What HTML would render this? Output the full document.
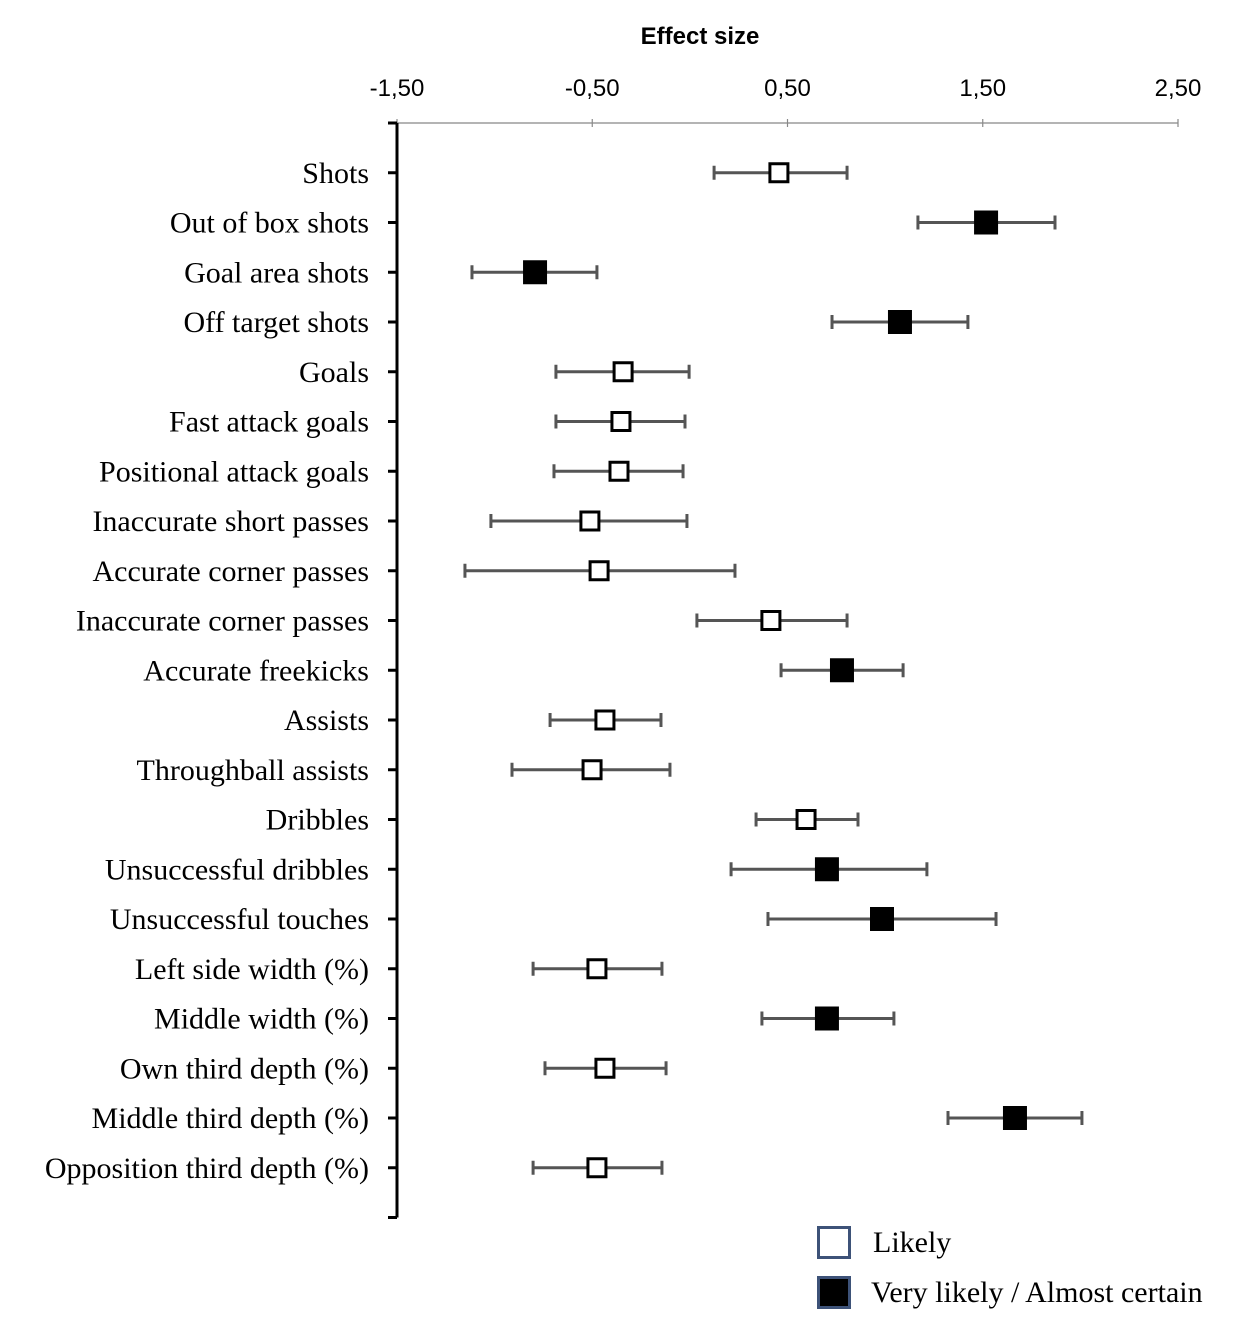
<!DOCTYPE html>
<html><head><meta charset="utf-8"><style>
html,body{margin:0;padding:0;background:#fff;width:1235px;height:1337px;overflow:hidden}
</style></head><body>
<svg id="chart" width="1235" height="1337" xmlns="http://www.w3.org/2000/svg">
<text x="700" y="44" text-anchor="middle" font-family="Liberation Sans, sans-serif" font-size="24" font-weight="bold">Effect size</text>
<g id="axes"></g>
<g id="marks"></g>
<g>
<rect x="818.5" y="1227.5" width="31" height="30" fill="#fff" stroke="#3d5278" stroke-width="3"/>
<text x="873" y="1252" font-family="Liberation Serif, serif" font-size="30">Likely</text>
<rect x="818.5" y="1277.5" width="31" height="30" fill="#000" stroke="#3d5278" stroke-width="3"/>
<text x="871" y="1302" font-family="Liberation Serif, serif" font-size="30">Very likely / Almost certain</text>
</g>
</svg>
<script>
const categories=["Shots","Out of box shots","Goal area shots","Off target shots","Goals","Fast attack goals","Positional attack goals","Inaccurate short passes","Accurate corner passes","Inaccurate corner passes","Accurate freekicks","Assists","Throughball assists","Dribbles","Unsuccessful dribbles","Unsuccessful touches","Left side width (%)","Middle width (%)","Own third depth (%)","Middle third depth (%)","Opposition third depth (%)"];
const effect=[0.456,1.517,-0.793,1.076,-0.342,-0.353,-0.363,-0.512,-0.465,0.415,0.779,-0.435,-0.501,0.595,0.702,0.984,-0.476,0.702,-0.435,1.665,-0.476];
const lower=[0.124,1.168,-1.116,0.728,-0.686,-0.686,-0.696,-1.019,-1.152,0.036,0.467,-0.716,-0.911,0.339,0.211,0.400,-0.803,0.369,-0.742,1.322,-0.803];
const upper=[0.805,1.870,-0.476,1.424,-0.004,-0.025,-0.035,-0.015,0.231,0.805,1.092,-0.148,-0.102,0.861,1.214,1.568,-0.143,1.045,-0.122,2.008,-0.143];
const certain=[0,1,1,1,0,0,0,0,0,0,1,0,0,0,1,1,0,1,0,1,0];
const xTicks=[-1.5,-0.5,0.5,1.5,2.5];
const xTickLabels=["-1,50","-0,50","0,50","1,50","2,50"];

const NS="http://www.w3.org/2000/svg";
const X0=397,X1=1178,VMIN=-1.5,VMAX=2.5;
const x=v=>X0+(v-VMIN)/(VMAX-VMIN)*(X1-X0);
const TOP=123,STEP=49.75;
const y=i=>TOP+(i+1)*STEP;
function mk(tag,attrs,parent){const e=document.createElementNS(NS,tag);for(const k in attrs)e.setAttribute(k,attrs[k]);parent.appendChild(e);return e;}
const axes=document.getElementById('axes'),marks=document.getElementById('marks');
let e=mk('line',{x1:X0,y1:TOP,x2:X1,y2:TOP,stroke:'#888','stroke-width':1.2},axes);


xTicks.forEach((t,i)=>{
 let tk=mk('line',{x1:x(t),y1:TOP-4,x2:x(t),y2:TOP+4,stroke:'#888','stroke-width':1.2},axes);
 
 
 let tl=mk('text',{x:x(t),y:96,'text-anchor':'middle','font-family':'Liberation Sans, sans-serif','font-size':24},axes);
 tl.textContent=xTickLabels[i];
 
 
});
const yEnd=y(categories.length);
e=mk('line',{x1:X0,y1:TOP,x2:X0,y2:yEnd,stroke:'#000','stroke-width':3},axes);


for(let k=0;k<=categories.length+1;k++){
 const yy=TOP+k*STEP;
 let tk=mk('line',{x1:388,y1:yy,x2:X0,y2:yy,stroke:'#000','stroke-width':3},axes);
 
 
}
categories.forEach((c,i)=>{
 const yy=y(i);
 let lb=mk('text',{x:369,y:yy+10,'text-anchor':'end','font-family':'Liberation Serif, serif','font-size':30},axes);
 lb.textContent=c;
 
 
 let g=mk('g',{},marks);
 
 
 let l=mk('line',{x1:x(lower[i]),y1:yy,x2:x(upper[i]),y2:yy,stroke:'#555','stroke-width':3},g);
 
 
 [lower[i],upper[i]].forEach(v=>{
  let c2=mk('line',{x1:x(v),y1:yy-7,x2:x(v),y2:yy+7,stroke:'#555','stroke-width':3},g);
  
  
 });
 const s=certain[i]?21:18;
 let r=mk('rect',{x:x(effect[i])-s/2,y:yy-s/2,width:s,height:s,fill:certain[i]?'#000':'#fff',stroke:'#000','stroke-width':3},g);
 
 
});
</script>
</body></html>
